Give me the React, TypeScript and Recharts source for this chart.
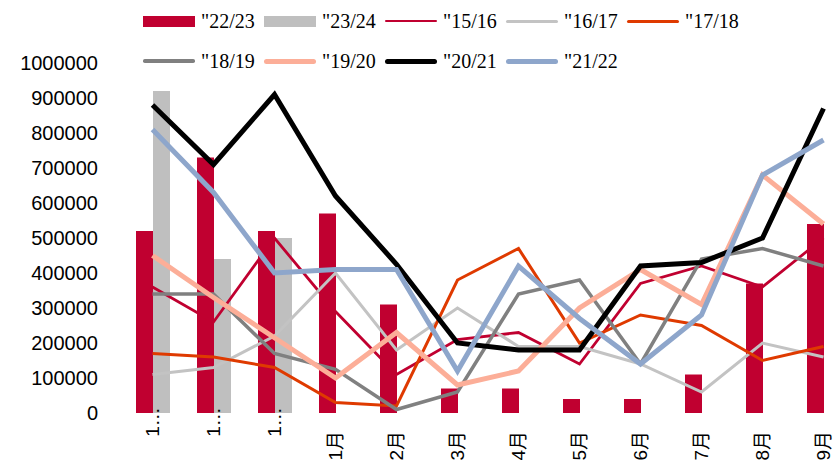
import React from 'react';
import { ComposedChart, Bar, Line, XAxis, YAxis, Legend } from 'recharts';

// monthly volumes, Oct -> Sep season
const months = ['10月', '11月', '12月', '1月', '2月', '3月', '4月', '5月', '6月', '7月', '8月', '9月'];
const monthLabels = ['1…', '1…', '1…', '1月', '2月', '3月', '4月', '5月', '6月', '7月', '8月', '9月'];
const yTicks = [0, 100000, 200000, 300000, 400000, 500000, 600000, 700000, 800000, 900000, 1000000];

const s2223 = [520000, 730000, 520000, 570000, 310000, 70000, 70000, 40000, 40000, 110000, 370000, 540000];
const s2324 = [920000, 440000, 500000, null, null, null, null, null, null, null, null, null];
const s1516 = [360000, 260000, 500000, 290000, 110000, 210000, 230000, 140000, 370000, 420000, 360000, 500000];
const s1617 = [110000, 130000, 220000, 400000, 180000, 300000, 190000, 190000, 140000, 60000, 200000, 160000];
const s1718 = [170000, 160000, 130000, 30000, 20000, 380000, 470000, 200000, 280000, 250000, 150000, 190000];
const s1819 = [340000, 340000, 170000, 125000, 10000, 60000, 340000, 380000, 140000, 440000, 470000, 420000];
const s1920 = [450000, 330000, 215000, 100000, 230000, 80000, 120000, 300000, 410000, 310000, 680000, 540000];
const s2021 = [880000, 710000, 910000, 620000, 425000, 200000, 180000, 180000, 420000, 430000, 500000, 870000];
const s2122 = [810000, 630000, 400000, 410000, 410000, 120000, 420000, 270000, 140000, 280000, 680000, 780000];

const data = months.map((m, i) => ({
  month: m,
  s2223: s2223[i],
  s2324: s2324[i],
  s1516: s1516[i],
  s1617: s1617[i],
  s1718: s1718[i],
  s1819: s1819[i],
  s1920: s1920[i],
  s2021: s2021[i],
  s2122: s2122[i],
}));

const bars = [
  { key: 's2223', name: '"22/23', color: '#C00030' },
  { key: 's2324', name: '"23/24', color: '#BFBFBF' },
];

const lines = [
  { key: 's1516', name: '"15/16', color: '#C00030', width: 2.8 },
  { key: 's1617', name: '"16/17', color: '#C3C3C3', width: 3 },
  { key: 's1718', name: '"17/18', color: '#DF3A00', width: 3 },
  { key: 's1819', name: '"18/19', color: '#808080', width: 3.5 },
  { key: 's1920', name: '"19/20', color: '#FCAE98', width: 5 },
  { key: 's2021', name: '"20/21', color: '#000000', width: 5 },
  { key: 's2122', name: '"21/22', color: '#8EA6CB', width: 5 },
];

const sans = '"Liberation Sans", Arial, "Noto Sans CJK SC", sans-serif';
const serif = '"Liberation Serif", "Times New Roman", serif';

const MonthTick = (props: any) => {
  const { x, y, payload } = props;
  const label = monthLabels[months.indexOf(payload.value)];
  const cut = label.endsWith('…');
  const ty = y + (cut ? 9 : 18);
  return (
    <text
      x={x}
      y={ty}
      transform={`rotate(-90 ${x} ${ty})`}
      textAnchor={cut ? 'middle' : 'end'}
      dy="0.36em"
      fontSize={19}
      fontFamily={sans}
      fill="#000"
    >
      {label}
    </text>
  );
};

const LegendBox = () => {
  const items = [
    ...bars.map((b) => ({ ...b, bar: true, width: 11 })),
    ...lines.map((l) => ({ ...l, bar: false })),
  ];
  const rows = [items.slice(0, 5), items.slice(5)];
  return (
    <div style={{ position: 'relative', width: 834, height: 80, fontFamily: serif, fontSize: 20, color: '#000' }}>
      {rows.map((row, r) => (
        <div key={r} style={{ position: 'absolute', left: 143, top: r === 0 ? 7 : 47, height: 28, display: 'flex' }}>
          {row.map((it) => (
            <div key={it.key} style={{ width: 121, flex: 'none', display: 'flex', alignItems: 'center' }}>
              <span
                style={{
                  display: 'inline-block',
                  width: 52,
                  height: it.width,
                  background: it.color,
                  borderRadius: it.bar ? 0 : it.width / 2,
                }}
              />
              <span style={{ marginLeft: 6, lineHeight: '28px', whiteSpace: 'nowrap' }}>{it.name}</span>
            </div>
          ))}
        </div>
      ))}
    </div>
  );
};

export default function App() {
  return (
    <div style={{ position: 'absolute', left: 0, top: 0, width: 834, height: 460, overflow: 'hidden', background: '#fff' }}>
      <ComposedChart width={854} height={460} data={data} margin={{ top: 63, right: 0, bottom: 0, left: 0 }} barGap={0}>
        <XAxis
          dataKey="month"
          interval={0}
          tickLine={false}
          axisLine={false}
          tickSize={0}
          tickMargin={0}
          height={47}
          tick={<MonthTick />}
        />
        <YAxis
          width={122}
          domain={[0, 1000000]}
          ticks={yTicks}
          interval={0}
          tickLine={false}
          axisLine={false}
          tickSize={0}
          tickMargin={24}
          tick={{ fontSize: 20, fill: '#000', fontFamily: sans }}
        />
        <Legend
          content={<LegendBox />}
          layout="horizontal"
          verticalAlign="middle"
          align="center"
          wrapperStyle={{ top: 0, left: 0, width: 834, height: 80 }}
        />
        {bars.map((b) => (
          <Bar key={b.key} dataKey={b.key} name={b.name} fill={b.color} barSize={17} isAnimationActive={false} />
        ))}
        {lines.map((l) => (
          <Line
            key={l.key}
            type="linear"
            dataKey={l.key}
            name={l.name}
            stroke={l.color}
            strokeWidth={l.width}
            dot={false}
            activeDot={false}
            isAnimationActive={false}
          />
        ))}
      </ComposedChart>
    </div>
  );
}
